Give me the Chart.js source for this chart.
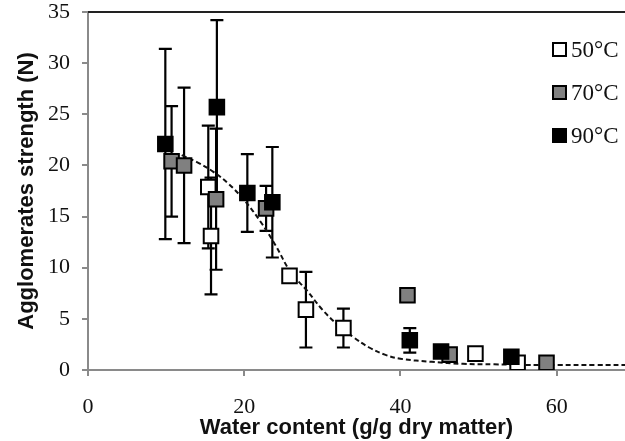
<!DOCTYPE html>
<html>
<head>
<meta charset="utf-8">
<script src="https://cdn.jsdelivr.net/npm/chart.js@4.4.0/dist/chart.umd.min.js"></script>
<style>
  html, body { margin: 0; padding: 0; background: #fff; }
  #wrap { position: relative; width: 625px; height: 441px; }
  #legend { position: absolute; left: 552px; top: 28px; font-family: "Liberation Serif", serif; font-size: 23px; color: #111; }
  .item { display: flex; align-items: center; height: 43px; }
  .sw { width: 11px; height: 11px; border: 2px solid #000; margin-right: 4px; box-sizing: content-box; }
</style>
</head>
<body>
<div id="wrap">
  <canvas id="c" width="625" height="441"></canvas>
  <div id="legend"></div>
</div>
<script>
// ---- data ----
const seriesNames = ["50°C", "70°C", "90°C"];
const seriesFill = ["#ffffff", "#808080", "#000000"];

const x50 = [15.4, 15.75, 25.8, 27.9, 32.7, 49.6, 55.0];
const y50 = [17.9, 13.1, 9.2, 5.9, 4.1, 1.6, 0.7];
const e50 = [6.0, 5.7, 0, 3.7, 1.9, 0, 0];

const x70 = [10.7, 12.3, 16.4, 22.8, 40.9, 46.3, 58.7];
const y70 = [20.4, 20.0, 16.7, 15.8, 7.3, 1.5, 0.7];
const e70 = [5.4, 7.6, 6.9, 2.2, 0, 0, 0];

const x90 = [9.9, 16.5, 20.4, 23.6, 41.2, 45.2, 54.2];
const y90 = [22.1, 25.7, 17.3, 16.4, 2.9, 1.8, 1.3];
const e90 = [9.3, 8.5, 3.8, 5.4, 1.2, 0, 0];

// fitted (dashed) curve
const curveX = [12, 14, 16, 18, 20, 22, 24, 26, 28, 30, 32, 34, 36, 38, 40, 44, 48, 52, 56, 60, 65, 70];
const curveY = [21.0, 20.3, 19.4, 18.2, 16.6, 14.6, 12.2, 9.5, 7.8, 5.9, 4.4, 3.2, 2.2, 1.5, 1.1, 0.8, 0.6, 0.55, 0.5, 0.5, 0.5, 0.5];

const xTicks = [0, 20, 40, 60];
const yTicks = [0, 5, 10, 15, 20, 25, 30, 35];

const xs = [x50, x70, x90], ys = [y50, y70, y90], es = [e50, e70, e90];

function pts(xa, ya) { return xa.map((v, i) => ({ x: v, y: ya[i] })); }

const datasets = [];
for (let k = 0; k < 3; k++) {
  datasets.push({
    label: seriesNames[k],
    data: pts(xs[k], ys[k]),
    errors: es[k],
    showLine: false,
    pointStyle: 'rect',
    pointRadius: 10.3,
    pointHoverRadius: 10.3,
    backgroundColor: seriesFill[k],
    borderColor: '#000',
    pointBorderWidth: 2,
    order: 3 - k
  });
}
datasets.push({
  label: 'fit',
  data: pts(curveX, curveY),
  showLine: true,
  borderColor: '#111',
  borderWidth: 2,
  borderDash: [5, 3],
  pointRadius: 0,
  tension: 0.4,
  fill: false,
  order: 10
});

// legend (HTML)
const leg = document.getElementById('legend');
seriesNames.forEach((n, k) => {
  const d = document.createElement('div'); d.className = 'item';
  const s = document.createElement('div'); s.className = 'sw'; s.style.background = seriesFill[k];
  const t = document.createElement('span'); t.textContent = n;
  d.appendChild(s); d.appendChild(t); leg.appendChild(d);
});

const errorBars = {
  id: 'errorBars',
  beforeDatasetsDraw(chart) {
    const ctx = chart.ctx, xS = chart.scales.x, yS = chart.scales.y;
    ctx.save();
    ctx.strokeStyle = '#000';
    ctx.lineWidth = 2.2;
    chart.data.datasets.forEach(ds => {
      if (!ds.errors) return;
      ds.data.forEach((p, i) => {
        const e = ds.errors[i];
        if (!e) return;
        const px = xS.getPixelForValue(p.x);
        const top = yS.getPixelForValue(p.y + e);
        const bot = yS.getPixelForValue(p.y - e);
        ctx.beginPath();
        ctx.moveTo(px, top); ctx.lineTo(px, bot);
        ctx.moveTo(px - 6.5, top); ctx.lineTo(px + 6.5, top);
        ctx.moveTo(px - 6.5, bot); ctx.lineTo(px + 6.5, bot);
        ctx.stroke();
      });
    });
    ctx.restore();
  },
  afterDraw(chart) {
    const ctx = chart.ctx, a = chart.chartArea;
    ctx.save();
    ctx.strokeStyle = '#222';
    ctx.lineWidth = 2;
    ctx.beginPath();
    ctx.moveTo(a.left, a.top); ctx.lineTo(a.right, a.top);
    ctx.stroke();
    ctx.restore();
  }
};

new Chart(document.getElementById('c'), {
  type: 'scatter',
  data: { datasets },
  plugins: [errorBars],
  options: {
    responsive: false,
    animation: false,
    layout: { autoPadding: false, padding: { top: 12, right: 0, left: 0, bottom: 0 } },
    plugins: { legend: { display: false }, tooltip: { enabled: false } },
    scales: {
      x: {
        type: 'linear', min: 0, max: 68.75,
        afterBuildTicks: s => { s.ticks = xTicks.map(v => ({ value: v })); },
        afterFit: s => { s.height = 71; s.paddingLeft = 0; s.paddingRight = 0; },
        border: { color: '#8a8a8a', width: 2 },
        grid: { drawOnChartArea: false, drawTicks: true, tickLength: 6, color: '#8a8a8a', lineWidth: 2 },
        ticks: { color: '#111', font: { family: 'Liberation Serif', size: 22 }, padding: 18, maxRotation: 0 },
        title: { display: true, text: 'Water content (g/g dry matter)', color: '#111',
                 font: { family: 'Liberation Sans', weight: 'bold', size: 22 }, padding: { top: 0, bottom: 0 } }
      },
      y: {
        type: 'linear', min: 0, max: 35,
        afterBuildTicks: s => { s.ticks = yTicks.map(v => ({ value: v })); },
        afterFit: s => { s.width = 88; s.paddingTop = 0; s.paddingBottom = 0; },
        border: { color: '#8a8a8a', width: 2 },
        grid: { drawOnChartArea: false, drawTicks: true, tickLength: 6, color: '#8a8a8a', lineWidth: 2 },
        ticks: { color: '#111', font: { family: 'Liberation Serif', size: 22 }, padding: 12 },
        title: { display: true, text: 'Agglomerates strength (N)', color: '#111',
                 font: { family: 'Liberation Sans', weight: 'bold', size: 22 }, padding: { top: 14, bottom: 0 } }
      }
    }
  }
});
</script>
</body>
</html>
